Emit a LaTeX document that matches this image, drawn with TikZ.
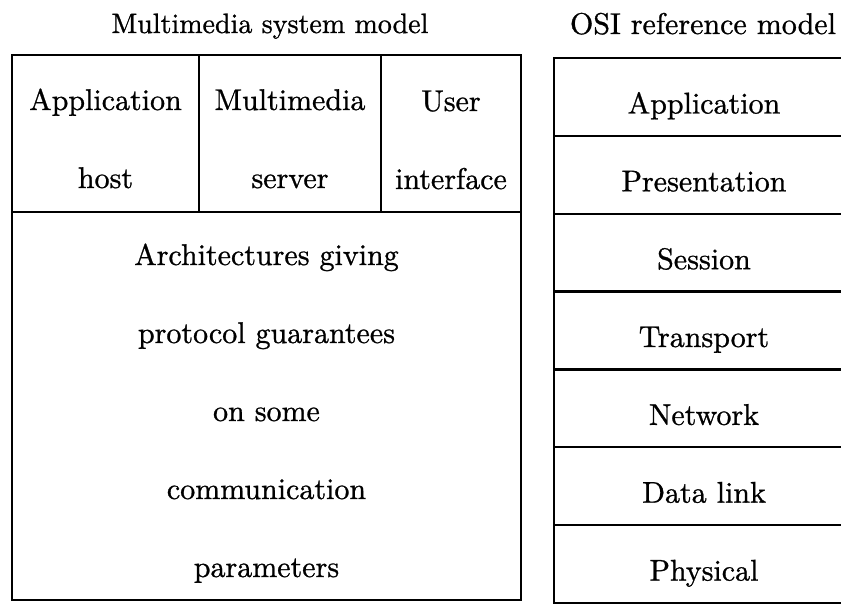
\documentclass[tikz,border=0pt]{standalone}
\usepackage{fontspec}
\setmainfont{lmroman10-regular.otf}[FakeBold=0.9]
\begin{document}
\begin{tikzpicture}[x=1pt,y=-1pt,line width=2.2pt,
  frame/.style={draw,outer sep=0pt,inner sep=0pt},
  row/.style={draw,outer sep=0pt,inner sep=0pt,minimum width=300,minimum height=77.9,
    text height=33pt,text depth=0pt,font=\fontsize{30}{36}\selectfont},
  txt/.style={anchor=base,inner sep=0pt,font=\fontsize{30}{36}\selectfont},
  title/.style={anchor=base,inner sep=0pt,font=\fontsize{28}{34}\selectfont}]
\useasboundingbox (0,0) rectangle (841,605);
\node[title] (mmtitle) at (270,33) {Multimedia system model};
\node[title,font=\fontsize{30}{36}\selectfont] (osititle) at (703,34) {OSI reference model};
% multimedia system model
\node[frame,minimum width=187,minimum height=157] (apphost) at (105.5,133.5) {};
\node[frame,minimum width=182,minimum height=157] (mmserver) at (290,133.5) {};
\node[frame,minimum width=140,minimum height=157] (userif) at (451,133.5) {};
\node[frame,minimum width=509,minimum height=388] (arch) at (266.5,406) {};
\node[txt] (apphost1) at (105.5,110) {Application};
\node[txt] (apphost2) at (105.5,188) {host};
\node[txt] (mmserver1) at (290,110) {Multimedia};
\node[txt] (mmserver2) at (290,188) {server};
\node[txt] (userif1) at (451,111) {User};
\node[txt] (userif2) at (451,189) {interface};
\node[txt] (arch1) at (266.5,265) {Architectures giving};
\node[txt] (arch2) at (266.5,343) {protocol guarantees};
\node[txt] (arch3) at (266.5,421) {on some};
\node[txt] (arch4) at (266.5,499) {communication};
\node[txt] (arch5) at (266.5,577) {parameters};
% OSI reference model
\node[row] (application) at (704,97) {Application};
\node[row] (presentation) at (704,174.8) {Presentation};
\node[row] (session) at (704,252.7) {Session};
\node[row] (transport) at (704,330.5) {Transport};
\node[row] (network) at (704,408.4) {Network};
\node[row] (datalink) at (704,486.2) {Data link};
\node[row] (physical) at (704,564.1) {Physical};
\end{tikzpicture}
\end{document}
